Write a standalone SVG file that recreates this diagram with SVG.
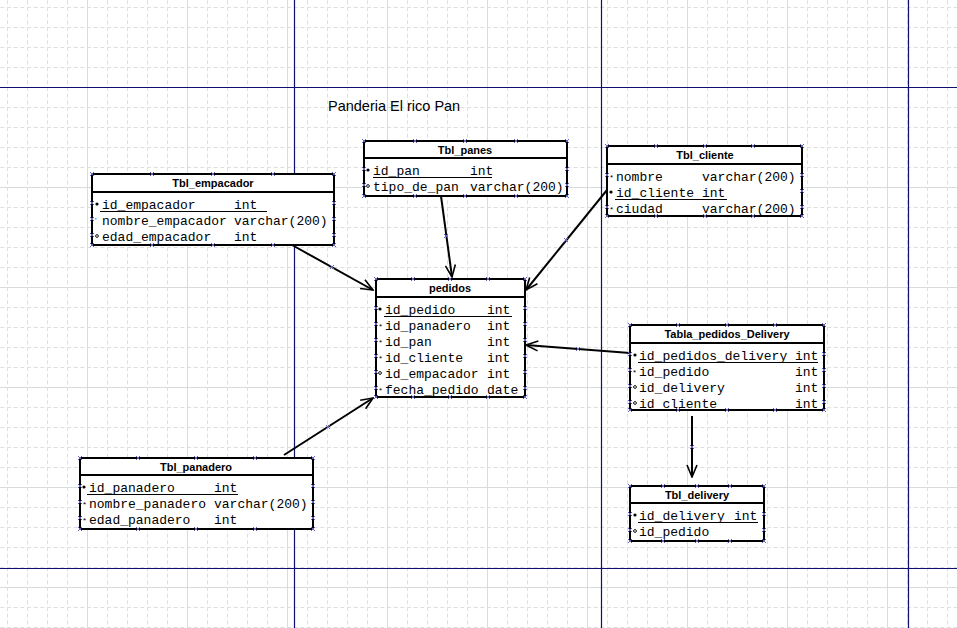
<svg xmlns="http://www.w3.org/2000/svg" xmlns:xlink="http://www.w3.org/1999/xlink" width="957" height="628" viewBox="0 0 957 628">
  <style>
    .box { fill: #ffffff; stroke: #000000; stroke-width: 2; }
    .sep { stroke: #000000; stroke-width: 2; }
    .hdr { font-family: "Liberation Sans", Arial, sans-serif; font-weight: bold; font-size: 11px; fill: #000000; text-anchor: middle; }
    .col { font-family: "Liberation Mono", "Courier New", monospace; font-size: 13px; fill: #000000; }
    .ul { stroke: #000000; stroke-width: 1.2; }
    .title { font-family: "Liberation Sans", Arial, sans-serif; font-size: 14.5px; fill: #000000; }
    .edge { stroke: #000000; stroke-width: 2; fill: none; marker-end: url(#arrow); }
    .pk { fill: #000000; }
    .nn { font-family: "Liberation Sans", Arial, sans-serif; font-size: 8px; fill: #000000; }
    .nl { fill: none; stroke: #000000; stroke-width: 0.9; }
    .hd { stroke: #6262c0; stroke-width: 1; fill: none; }
    .page { stroke: #10106e; stroke-width: 1.2; }
    .major { stroke: #d9dcdc; stroke-width: 1; }
  </style>
  <defs>
    <pattern id="grid" x="7" y="7" width="20" height="20" patternUnits="userSpaceOnUse">
      <path d="M0,0.5 H20 M0.5,0 V20" stroke="#dedede" stroke-width="1" stroke-dasharray="4 2.667" fill="none"/>
    </pattern>
    <marker id="arrow" viewBox="0 0 14 12" refX="13" refY="6" markerWidth="14" markerHeight="12" markerUnits="userSpaceOnUse" orient="auto">
      <path d="M1,1 L13,6 L1,11" fill="none" stroke="#000000" stroke-width="1.6"/>
    </marker>
    <path id="h" class="hd" d="M-2,-2 L2,2 M-2,2 L2,-2"/>
  </defs>

  <!-- drawing surface -->
  <rect x="0" y="0" width="957" height="628" fill="#ffffff"/>
  <rect x="0" y="0" width="957" height="628" fill="url(#grid)"/>
  <g id="major-grid">
    <path class="major" d="M87.5,0 V628 M187.5,0 V628 M287.5,0 V628 M387.5,0 V628 M487.5,0 V628 M587.5,0 V628 M687.5,0 V628 M787.5,0 V628 M887.5,0 V628"/>
    <path class="major" d="M0,187.5 H957 M0,287.5 H957 M0,387.5 H957 M0,487.5 H957 M0,587.5 H957"/>
  </g>
  <g id="page-breaks">
    <path class="page" d="M294.5,0 V628 M601.5,0 V628 M908.5,0 V628 M0,87.5 H957 M0,568.5 H957"/>
  </g>

  <text class="title" x="328" y="111">Panderia El rico Pan</text>

  <!-- relationships -->
  <g id="connectors">
    <line class="edge" x1="292" y1="245" x2="373" y2="290"/>
    <line class="edge" x1="441" y1="196" x2="452" y2="277"/>
    <line class="edge" x1="607" y1="190" x2="526" y2="290"/>
    <line class="edge" x1="630" y1="353" x2="526" y2="345"/>
    <line class="edge" x1="284" y1="455" x2="373" y2="398"/>
    <line class="edge" x1="692" y1="416" x2="692" y2="477"/>
    <use href="#h" x="332" y="267"/>
    <use href="#h" x="446" y="236"/>
    <use href="#h" x="566" y="240"/>
    <use href="#h" x="578" y="349"/>
    <use href="#h" x="328" y="427"/>
    <use href="#h" x="692" y="447"/>
  </g>

  <!-- Tbl_empacador -->
  <g id="tbl_empacador">
    <rect class="box" x="92" y="174" width="242" height="71"/>
    <line class="sep" x1="92" y1="192" x2="334" y2="192"/>
    <text class="hdr" x="213" y="187">Tbl_empacador</text>
    <g transform="translate(0,2)">
      <circle class="pk" cx="97" cy="202" r="1.6"/>
      <text class="col" x="102" y="207">id_empacador</text><text class="col" x="234" y="207">int</text>
      <line class="ul" x1="100" y1="209.5" x2="267" y2="209.5"/>
      <text class="nn" x="95" y="221">'</text>
      <text class="col" x="102" y="223">nombre_empacador</text><text class="col" x="234" y="223">varchar(200)</text>
      <circle class="nl" cx="97" cy="234" r="1.4"/>
      <text class="col" x="102" y="239">edad_empacador</text><text class="col" x="234" y="239">int</text>
    </g>
    <g>
      <use href="#h" x="92" y="174"/><use href="#h" x="152" y="174"/><use href="#h" x="213" y="174"/><use href="#h" x="273" y="174"/><use href="#h" x="334" y="174"/>
      <use href="#h" x="92" y="245"/><use href="#h" x="152" y="245"/><use href="#h" x="213" y="245"/><use href="#h" x="273" y="245"/><use href="#h" x="334" y="245"/>
      <use href="#h" x="92" y="203"/><use href="#h" x="92" y="219"/><use href="#h" x="92" y="235"/>
      <use href="#h" x="334" y="203"/><use href="#h" x="334" y="219"/><use href="#h" x="334" y="235"/>
    </g>
  </g>

  <!-- Tbl_panes -->
  <g id="tbl_panes">
    <rect class="box" x="364" y="141" width="203" height="55"/>
    <line class="sep" x1="364" y1="158" x2="567" y2="158"/>
    <text class="hdr" x="465" y="154">Tbl_panes</text>
    <g transform="translate(0,2)">
      <circle class="pk" cx="368" cy="168" r="1.6"/>
      <text class="col" x="373" y="173">id_pan</text><text class="col" x="470" y="173">int</text>
      <line class="ul" x1="373" y1="175.5" x2="492" y2="175.5"/>
      <circle class="nl" cx="368" cy="184" r="1.4"/>
      <text class="col" x="373" y="189">tipo_de_pan</text><text class="col" x="470" y="189">varchar(200)</text>
    </g>
    <g>
      <use href="#h" x="364" y="141"/><use href="#h" x="415" y="141"/><use href="#h" x="465" y="141"/><use href="#h" x="516" y="141"/><use href="#h" x="567" y="141"/>
      <use href="#h" x="364" y="196"/><use href="#h" x="415" y="196"/><use href="#h" x="465" y="196"/><use href="#h" x="516" y="196"/><use href="#h" x="567" y="196"/>
      <use href="#h" x="364" y="169"/><use href="#h" x="364" y="185"/>
      <use href="#h" x="567" y="169"/><use href="#h" x="567" y="185"/>
    </g>
  </g>

  <!-- Tbl_cliente -->
  <g id="tbl_cliente">
    <rect class="box" x="607" y="146" width="195" height="70"/>
    <line class="sep" x1="607" y1="164" x2="802" y2="164"/>
    <text class="hdr" x="705" y="159">Tbl_cliente</text>
    <g transform="translate(0,2)">
      <text class="nn" x="610" y="178">*</text>
      <text class="col" x="616" y="179">nombre</text><text class="col" x="702" y="179">varchar(200)</text>
      <circle class="pk" cx="611" cy="190" r="1.6"/>
      <text class="col" x="616" y="195">id_cliente</text><text class="col" x="702" y="195">int</text>
      <line class="ul" x1="615" y1="197.5" x2="727" y2="197.5"/>
      <text class="nn" x="610" y="210">*</text>
      <text class="col" x="616" y="211">ciudad</text><text class="col" x="702" y="211">varchar(200)</text>
    </g>
    <g>
      <use href="#h" x="607" y="146"/><use href="#h" x="656" y="146"/><use href="#h" x="705" y="146"/><use href="#h" x="753" y="146"/><use href="#h" x="802" y="146"/>
      <use href="#h" x="607" y="216"/><use href="#h" x="656" y="216"/><use href="#h" x="705" y="216"/><use href="#h" x="753" y="216"/><use href="#h" x="802" y="216"/>
      <use href="#h" x="607" y="175"/><use href="#h" x="607" y="207"/>
      <use href="#h" x="802" y="175"/><use href="#h" x="802" y="191"/><use href="#h" x="802" y="207"/>
    </g>
  </g>

  <!-- pedidos -->
  <g id="pedidos">
    <rect class="box" x="376" y="279" width="149" height="118"/>
    <line class="sep" x1="376" y1="297" x2="525" y2="297"/>
    <text class="hdr" x="450" y="292">pedidos</text>
    <g transform="translate(0,2)">
      <circle class="pk" cx="380" cy="307" r="1.6"/>
      <text class="col" x="385" y="312">id_pedido</text><text class="col" x="487" y="312">int</text>
      <line class="ul" x1="384" y1="314.5" x2="512" y2="314.5"/>
      <text class="nn" x="379" y="327">*</text>
      <text class="col" x="385" y="328">id_panadero</text><text class="col" x="487" y="328">int</text>
      <text class="nn" x="379" y="343">*</text>
      <text class="col" x="385" y="344">id_pan</text><text class="col" x="487" y="344">int</text>
      <text class="nn" x="379" y="359">*</text>
      <text class="col" x="385" y="360">id_cliente</text><text class="col" x="487" y="360">int</text>
      <circle class="nl" cx="380" cy="371" r="1.4"/>
      <text class="col" x="385" y="376">id_empacador</text><text class="col" x="487" y="376">int</text>
      <text class="nn" x="379" y="391">*</text>
      <text class="col" x="385" y="392">fecha_pedido</text><text class="col" x="487" y="392">date</text>
    </g>
    <g>
      <use href="#h" x="376" y="279"/><use href="#h" x="413" y="279"/><use href="#h" x="450" y="279"/><use href="#h" x="488" y="279"/><use href="#h" x="525" y="279"/>
      <use href="#h" x="376" y="397"/><use href="#h" x="413" y="397"/><use href="#h" x="450" y="397"/><use href="#h" x="488" y="397"/><use href="#h" x="525" y="397"/>
      <use href="#h" x="376" y="308"/><use href="#h" x="376" y="324"/><use href="#h" x="376" y="340"/><use href="#h" x="376" y="356"/><use href="#h" x="376" y="372"/><use href="#h" x="376" y="388"/>
      <use href="#h" x="525" y="308"/><use href="#h" x="525" y="324"/><use href="#h" x="525" y="340"/><use href="#h" x="525" y="356"/><use href="#h" x="525" y="372"/><use href="#h" x="525" y="388"/>
    </g>
  </g>

  <!-- Tabla_pedidos_Delivery -->
  <g id="tabla_pedidos_delivery">
    <rect class="box" x="630" y="325" width="194" height="85"/>
    <line class="sep" x1="630" y1="343" x2="824" y2="343"/>
    <text class="hdr" x="727" y="338">Tabla_pedidos_Delivery</text>
    <g transform="translate(0,2)">
      <circle class="pk" cx="635" cy="353" r="1.6"/>
      <text class="col" x="639" y="358">id_pedidos_delivery</text><text class="col" x="795" y="358">int</text>
      <line class="ul" x1="638" y1="360.5" x2="818" y2="360.5"/>
      <text class="nn" x="633" y="373">*</text>
      <text class="col" x="639" y="374">id_pedido</text><text class="col" x="795" y="374">int</text>
      <circle class="nl" cx="635" cy="385" r="1.4"/>
      <text class="col" x="639" y="390">id_delivery</text><text class="col" x="795" y="390">int</text>
      <circle class="nl" cx="635" cy="401" r="1.4"/>
      <text class="col" x="639" y="406">id_cliente</text><text class="col" x="795" y="406">int</text>
    </g>
    <g>
      <use href="#h" x="630" y="325"/><use href="#h" x="678" y="325"/><use href="#h" x="727" y="325"/><use href="#h" x="775" y="325"/><use href="#h" x="824" y="325"/>
      <use href="#h" x="630" y="410"/><use href="#h" x="678" y="410"/><use href="#h" x="727" y="410"/><use href="#h" x="775" y="410"/><use href="#h" x="824" y="410"/>
      <use href="#h" x="630" y="354"/><use href="#h" x="630" y="370"/><use href="#h" x="630" y="386"/><use href="#h" x="630" y="402"/>
      <use href="#h" x="824" y="354"/><use href="#h" x="824" y="370"/><use href="#h" x="824" y="386"/><use href="#h" x="824" y="402"/>
    </g>
  </g>

  <!-- Tbl_panadero -->
  <g id="tbl_panadero">
    <rect class="box" x="80" y="458" width="233" height="71"/>
    <line class="sep" x1="80" y1="475" x2="313" y2="475"/>
    <text class="hdr" x="196" y="471">Tbl_panadero</text>
    <g transform="translate(0,2)">
      <circle class="pk" cx="84" cy="485" r="1.6"/>
      <text class="col" x="89" y="490">id_panadero</text><text class="col" x="214" y="490">int</text>
      <line class="ul" x1="87" y1="492.5" x2="238" y2="492.5"/>
      <text class="nn" x="83" y="505">*</text>
      <text class="col" x="89" y="506">nombre_panadero</text><text class="col" x="214" y="506">varchar(200)</text>
      <text class="nn" x="83" y="521">*</text>
      <text class="col" x="89" y="522">edad_panadero</text><text class="col" x="214" y="522">int</text>
    </g>
    <g>
      <use href="#h" x="80" y="458"/><use href="#h" x="138" y="458"/><use href="#h" x="196" y="458"/><use href="#h" x="255" y="458"/><use href="#h" x="313" y="458"/>
      <use href="#h" x="80" y="529"/><use href="#h" x="138" y="529"/><use href="#h" x="196" y="529"/><use href="#h" x="255" y="529"/><use href="#h" x="313" y="529"/>
      <use href="#h" x="80" y="486"/><use href="#h" x="80" y="502"/><use href="#h" x="80" y="518"/>
      <use href="#h" x="313" y="486"/><use href="#h" x="313" y="502"/><use href="#h" x="313" y="518"/>
    </g>
  </g>

  <!-- Tbl_delivery -->
  <g id="tbl_delivery">
    <rect class="box" x="630" y="486" width="134" height="55"/>
    <line class="sep" x1="630" y1="503" x2="764" y2="503"/>
    <text class="hdr" x="697" y="499">Tbl_delivery</text>
    <g transform="translate(0,2)">
      <circle class="pk" cx="635" cy="513" r="1.6"/>
      <text class="col" x="639" y="518">id_delivery</text><text class="col" x="734" y="518">int</text>
      <line class="ul" x1="638" y1="520.5" x2="758" y2="520.5"/>
      <circle class="nl" cx="635" cy="529" r="1.4"/>
      <text class="col" x="639" y="534">id_pedido</text>
    </g>
    <g>
      <use href="#h" x="630" y="486"/><use href="#h" x="663" y="486"/><use href="#h" x="697" y="486"/><use href="#h" x="730" y="486"/><use href="#h" x="764" y="486"/>
      <use href="#h" x="630" y="541"/><use href="#h" x="663" y="541"/><use href="#h" x="697" y="541"/><use href="#h" x="730" y="541"/><use href="#h" x="764" y="541"/>
      <use href="#h" x="630" y="514"/><use href="#h" x="630" y="530"/>
      <use href="#h" x="764" y="514"/><use href="#h" x="764" y="530"/>
    </g>
  </g>
</svg>
